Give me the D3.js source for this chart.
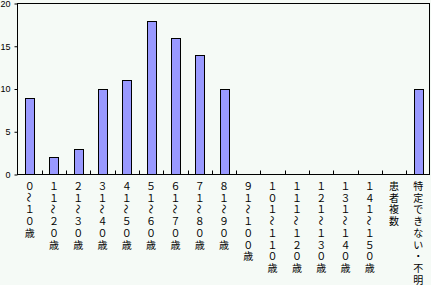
<!DOCTYPE html>
<html>
<style>
  body { margin: 0; background: #f5faf6; }
  svg { display: block; }
</style>
<body>
<div id="chart"></div>
<script src="https://d3js.org/d3.v7.min.js"></script>
<script>
// data
var categories = ["０～１０歳", "１１～２０歳", "２１～３０歳", "３１～４０歳", "４１～５０歳",
  "５１～６０歳", "６１～７０歳", "７１～８０歳", "８１～９０歳", "９１～１００歳",
  "１０１～１１０歳", "１１１～１２０歳", "１２１～１３０歳", "１３１～１４０歳", "１４１～１５０歳",
  "患者複数", "特定できない・不明"];
var counts = [9, 2, 3, 10, 11, 18, 16, 14, 10, 0, 0, 0, 0, 0, 0, 0, 10];
var yTicks = [0, 5, 10, 15, 20];

var W = 431, H = 285;
var plot = {left: 17.5, right: 430.5, top: 3.5, bottom: 174.5};

var svg = d3.select("#chart").append("svg")
    .attr("width", W)
    .attr("height", H);

svg.append("rect").attr("width", W).attr("height", H).attr("fill", "#f5faf6");

var x = d3.scaleBand().domain(categories).range([plot.left, plot.right]).padding(0);
var y = d3.scaleLinear().domain([0, 20]).range([plot.bottom, plot.top]);

var barW = 9;

// bars
var rows = categories.map(function(c, i) { return {cat: c, v: counts[i]}; });
svg.append("g")
  .selectAll("rect")
  .data(rows.filter(function(d) { return d.v > 0; }))
  .enter()
  .append("rect")
    .attr("x", function(d) { return Math.round(x(d.cat) + x.bandwidth() / 2 - barW / 2) + 0.5; })
    .attr("y", function(d) { return Math.round(y(d.v)) + 0.5; })
    .attr("width", barW)
    .attr("height", function(d) { return plot.bottom - 0.5 - Math.round(y(d.v)); })
    .attr("fill", "#9999ff")
    .attr("stroke", "#000")
    .attr("stroke-width", 1);

// frame
svg.append("rect")
    .attr("x", plot.left).attr("y", plot.top)
    .attr("width", plot.right - 1 - plot.left).attr("height", plot.bottom - plot.top)
    .attr("fill", "none").attr("stroke", "#000").attr("stroke-width", 1);

// y axis
var yAxis = svg.append("g")
    .attr("transform", "translate(" + plot.left + ",0)")
    .call(d3.axisLeft(y).tickValues(yTicks).tickSize(3).tickPadding(4));
yAxis.select(".domain").remove();
yAxis.selectAll("text")
    .style("font-family", "'Liberation Sans', Arial, sans-serif")
    .style("font-size", "9px")
    .attr("fill", "#000");
yAxis.selectAll("line").attr("stroke", "#000");

// x ticks at band boundaries, pointing inward
svg.append("g")
  .selectAll("line")
  .data(categories.slice(1))
  .enter()
  .append("line")
    .attr("x1", function(d) { return Math.round(x(d)) + 0.5; })
    .attr("x2", function(d) { return Math.round(x(d)) + 0.5; })
    .attr("y1", plot.bottom)
    .attr("y2", plot.bottom - 4)
    .attr("stroke", "#000");

// vertical category labels, one character per line
var lineH = 11.7;
var labels = svg.append("g")
    .style("font-family", "'Noto Sans CJK JP', sans-serif")
    .style("font-size", "10px");

categories.forEach(function(c) {
  var cx = x(c) + x.bandwidth() / 2;
  Array.from(c).forEach(function(ch, k) {
    var cy = 185.5 + k * lineH;
    var t = labels.append("text")
        .attr("x", cx)
        .attr("y", cy)
        .attr("text-anchor", "middle")
        .attr("dominant-baseline", "central")
        .attr("fill", "#000")
        .text(ch);
    if (ch === "～") t.attr("transform", "rotate(90," + cx + "," + cy + ")");
  });
});
</script>
</body>
</html>
